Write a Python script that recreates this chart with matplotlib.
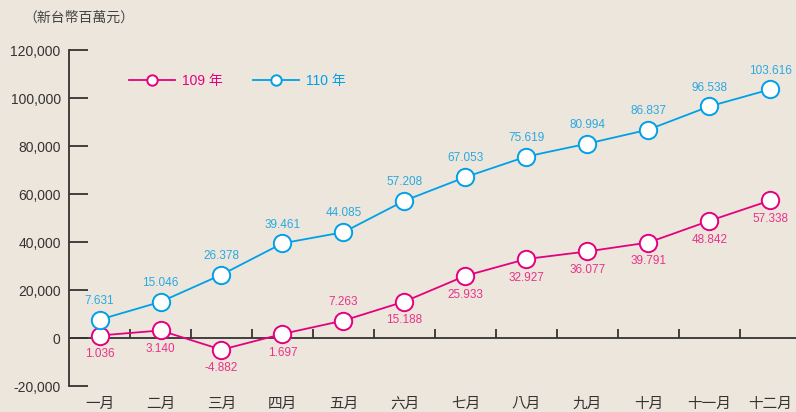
import numpy as np
import matplotlib.pyplot as plt

# data (NT$ millions)
months = ['一月', '二月', '三月', '四月', '五月', '六月',
          '七月', '八月', '九月', '十月', '十一月', '十二月']
y109 = [1036, 3140, -4882, 1697, 7263, 15188, 25933, 32927, 36077, 39791, 48842, 57338]
y110 = [7631, 15046, 26378, 39461, 44085, 57208, 67053, 75619, 80994, 86837, 96538, 103616]
# label placement for 109 series: 1 = above, -1 = below
pos109 = [-1, -1, -1, -1, 1, -1, -1, -1, -1, -1, -1, -1]
yticks = [-20000, 0, 20000, 40000, 60000, 80000, 100000, 120000]

bg = '#ede6dc'
pink = '#e4007f'
cyan = '#00a0e9'
dark = '#333333'
fonts = ['Liberation Sans', 'Noto Sans CJK TC', 'DejaVu Sans']
plt.rcParams['font.family'] = fonts

fig = plt.figure(figsize=(7.96, 4.12), dpi=100, facecolor=bg)
ax = fig.add_axes([69 / 796, 26 / 412, 732 / 796, 336 / 412], facecolor=bg)

x = np.arange(len(months))
ax.plot(x, y109, color=pink, lw=1.3, marker='o', ms=12.5, mfc='white',
        mec=pink, mew=1.4, label='109 年', zorder=3)
ax.plot(x, y110, color=cyan, lw=1.3, marker='o', ms=12.5, mfc='white',
        mec=cyan, mew=1.4, label='110 年', zorder=3)

def fmt(v):
    return f'{v:,}'.replace(',', '.')

for xi, v in zip(x, y110):
    ax.annotate(fmt(v), (xi, v), xytext=(0, 13.5), textcoords='offset points',
                ha='center', va='center', fontsize=8.5, color='#29a9e0')
for xi, v, p in zip(x, y109, pos109):
    ax.annotate(fmt(v), (xi, v), xytext=(0, 13.5 * p), textcoords='offset points',
                ha='center', va='center', fontsize=8.5, color='#e8338a')

ax.set_xlim(-0.5, 11.5)
ax.set_ylim(-20000, 120000)

# zero line with boundary ticks
ax.axhline(0, color=dark, lw=1.3, zorder=1)
sec = ax.secondary_xaxis(20000 / 140000)
sec.set_xticks(np.arange(0.5, 11.5, 1))
sec.tick_params(direction='in', length=6.5, width=1.3, color=dark, labelbottom=False)
sec.spines['bottom'].set_visible(False)

for s in ['top', 'right', 'bottom']:
    ax.spines[s].set_visible(False)
ax.spines['left'].set_color(dark)
ax.spines['left'].set_linewidth(1.3)

ax.set_yticks(yticks)
ax.set_yticklabels([f'{t:,}' for t in yticks])
ax.tick_params(axis='y', direction='in', length=13.5, width=1.3, color=dark,
               labelsize=10, labelcolor=dark, pad=6)

ax.set_xticks(x)
ax.set_xticklabels(months)
ax.tick_params(axis='x', length=0, labelsize=10.5, labelcolor=dark, pad=8)

fig.text(23 / 796, 1 - 18 / 412, '（新台幣百萬元）', fontsize=10, color='#444444',
         va='center', ha='left')

leg = ax.legend(loc='upper left', bbox_to_anchor=(0.065, 0.967), ncol=2, frameon=False,
                labelcolor='linecolor', fontsize=10, markerscale=0.6,
                handlelength=3.3, columnspacing=2.2, handletextpad=0.5)

fig.savefig('out.png', dpi=100, facecolor=bg)
